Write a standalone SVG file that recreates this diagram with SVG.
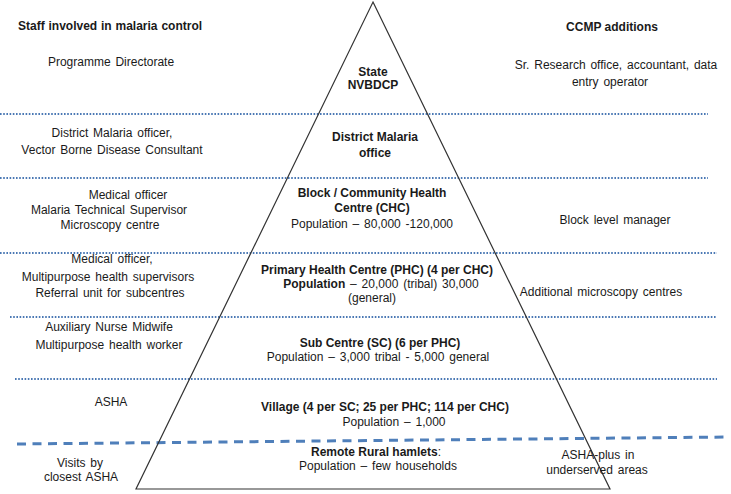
<svg xmlns="http://www.w3.org/2000/svg" width="731" height="494" viewBox="0 0 731 494">
<style>
text{font-family:"Liberation Sans",Arial,sans-serif;font-size:12px;fill:#1a1a1a;text-anchor:middle;word-spacing:1.5px}
.b{font-weight:bold;word-spacing:0}
.h{font-weight:bold;text-anchor:start;word-spacing:0.5px}
.dot{stroke:#4a78b4;stroke-width:2;stroke-dasharray:1.6 1.6;fill:none}
.dash{stroke:#4f7fba;stroke-width:3;stroke-dasharray:9 6.5;fill:none}
.tri{stroke:#333;stroke-width:1.2;fill:none}
</style>
<rect width="731" height="494" fill="#fff"/>
<g id="dividers">
<line class="dot" x1="0" y1="114" x2="708" y2="114"/>
<line class="dot" x1="0" y1="178" x2="708" y2="178"/>
<line class="dot" x1="0" y1="253" x2="717" y2="253"/>
<line class="dot" x1="10" y1="317" x2="717" y2="317"/>
<line class="dot" x1="15" y1="379" x2="717" y2="379"/>
<line class="dash" x1="17" y1="444" x2="728" y2="437"/>
</g>
<g id="pyramid">
<polygon class="tri" points="373,2 610,489 136,489"/>
</g>
<g id="headers">
<text class="h" x="18" y="30">Staff involved in malaria control</text>
<text class="b" x="612" y="31">CCMP additions</text>
</g>
<g id="tier-state">
<text x="111" y="66">Programme Directorate</text>
<text class="b" x="373" y="76">State</text>
<text class="b" x="373" y="89">NVBDCP</text>
<text x="616" y="69">Sr. Research office, accountant, data</text>
<text x="610" y="86">entry operator</text>
</g>
<g id="tier-district">
<text x="112" y="137">District Malaria officer,</text>
<text x="112" y="154">Vector Borne Disease Consultant</text>
<text class="b" x="375" y="141">District Malaria</text>
<text class="b" x="375" y="157">office</text>
</g>
<g id="tier-chc">
<text x="128" y="199">Medical officer</text>
<text x="109" y="214">Malaria Technical Supervisor</text>
<text x="110" y="229">Microscopy centre</text>
<text class="b" x="372" y="197">Block / Community Health</text>
<text class="b" x="372" y="212">Centre (CHC)</text>
<text x="372" y="228">Population – 80,000 -120,000</text>
<text x="615" y="224">Block level manager</text>
</g>
<g id="tier-phc">
<text x="112" y="263">Medical officer,</text>
<text x="108" y="281">Multipurpose health supervisors</text>
<text x="110" y="297">Referral unit for subcentres</text>
<text class="b" x="377" y="274">Primary Health Centre (PHC) (4 per CHC)</text>
<text x="381" y="288"><tspan class="b">Population</tspan> – 20,000 (tribal) 30,000</text>
<text x="372" y="302">(general)</text>
<text x="601" y="296">Additional microscopy centres</text>
</g>
<g id="tier-sc">
<text x="109" y="331">Auxiliary Nurse Midwife</text>
<text x="109" y="349">Multipurpose health worker</text>
<text class="b" x="380" y="347">Sub Centre (SC) (6 per PHC)</text>
<text x="378" y="361">Population – 3,000 tribal - 5,000 general</text>
</g>
<g id="tier-village">
<text x="111" y="406">ASHA</text>
<text class="b" x="385" y="411">Village (4 per SC; 25 per PHC; 114 per CHC)</text>
<text x="394" y="426">Population – 1,000</text>
</g>
<g id="tier-hamlets">
<text x="80" y="467">Visits by</text>
<text x="81" y="481">closest ASHA</text>
<text x="376" y="456"><tspan class="b">Remote Rural hamlets</tspan>:</text>
<text x="378" y="470">Population – few households</text>
<text x="598" y="459">ASHA-plus in</text>
<text x="597" y="474">underserved areas</text>
</g>
</svg>
